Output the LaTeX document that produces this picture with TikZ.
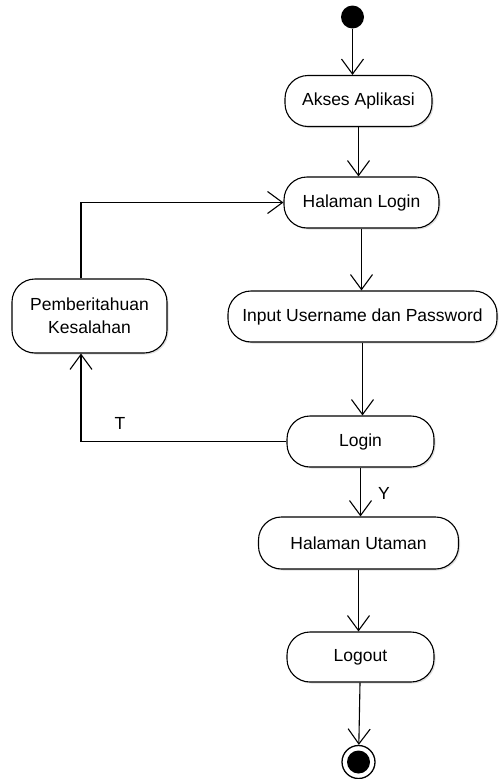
\documentclass[tikz,border=0pt]{standalone}
\usepackage{fontspec}
\setmainfont{Liberation Sans}
\usetikzlibrary{arrows.meta,shadows}
\tikzset{
  >={Straight Barb[length=15pt,width=22pt]},
  act/.style={draw,line width=1.1pt,rounded corners=23pt,fill=white,align=center,minimum height=51pt,inner sep=2pt,font=\fontsize{17.5}{22.7}\selectfont,drop shadow={opacity=0.25,shadow xshift=1.5pt,shadow yshift=-1.5pt}},
  flow/.style={->,line width=1.1pt},
  lbl/.style={font=\fontsize{17.5}{21}\selectfont,inner sep=0pt},
}
\begin{document}
\begin{tikzpicture}[x=1pt,y=-1pt]
\useasboundingbox (0,0) rectangle (498,779);
% activities
\node[circle,fill=black,minimum size=23pt,inner sep=0pt] (start) at (352.5,17) {};
\node[act,minimum width=147pt] (akses) at (358.5,101) {Akses Aplikasi};
\node[act,minimum width=155pt] (halLogin) at (361.5,202.5) {Halaman Login};
\node[act,minimum width=269pt] (input) at (362.5,316.5) {Input Username dan Password};
\node[act,minimum width=155pt,minimum height=74pt] (pesan) at (89.5,316) {Pemberitahuan\\Kesalahan};
\node[act,minimum width=147pt] (login) at (360.5,441.5) {Login};
\node[act,minimum width=200pt,minimum height=52pt] (utama) at (358.5,543) {Halaman Utaman};
\node[act,minimum width=147pt,minimum height=50pt] (logout) at (360.5,657) {Logout};
\node[circle,draw,line width=1.3pt,fill=white,minimum size=33pt,inner sep=0pt] (end) at (358.5,762) {};
\fill[black] (end.center) circle (11.5pt);
% transitions
\draw[flow] (start) -- (start |- akses.north);
\draw[flow] (akses) -- (akses |- halLogin.north);
\draw[flow] (halLogin) -- (halLogin |- input.north);
\draw[flow] (input) -- (input |- login.north);
\draw[flow] (login) -- (login |- utama.north);
\draw[flow] (utama) -- (utama |- logout.north);
\draw[flow] (logout) -- (end);
\draw[flow] (login.west) -| ([xshift=-8.5pt]pesan.south);
\draw[flow] ([xshift=-8.5pt]pesan.north) |- (halLogin.west);
\node[lbl] (tidak) at (120,423) {T};
\node[lbl] (ya) at (384,493) {Y};
\end{tikzpicture}
\end{document}
